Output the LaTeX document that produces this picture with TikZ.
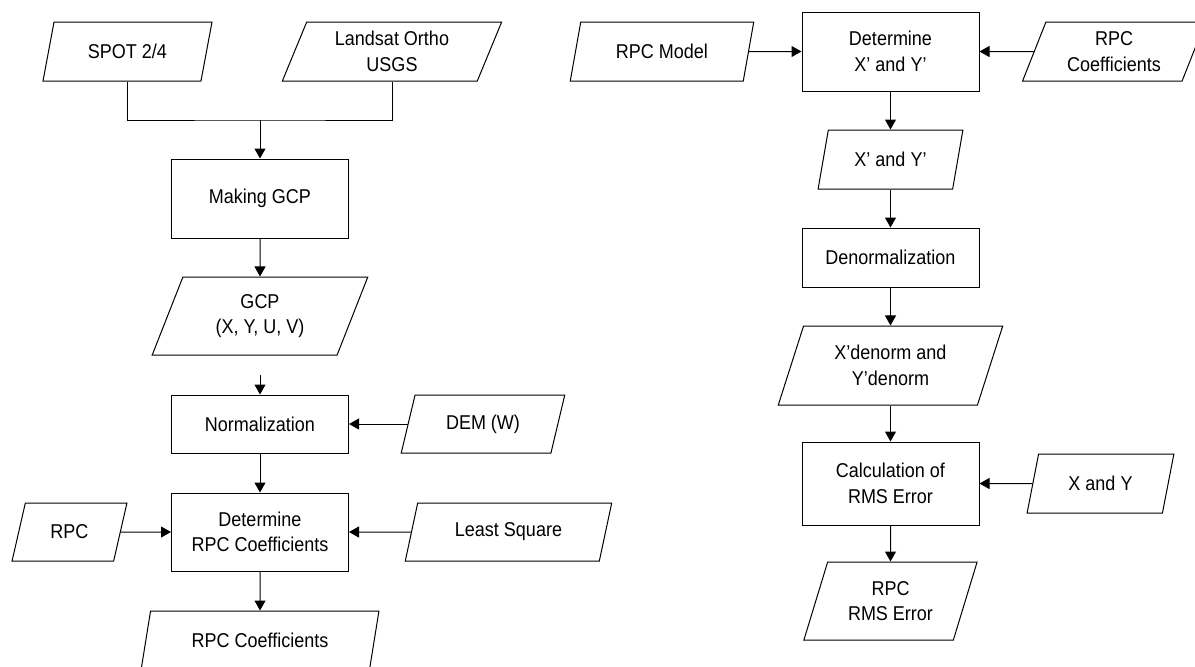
\documentclass[tikz,border=0pt]{standalone}
\usepackage{fontspec}
\setmainfont{Liberation Sans}[FakeStretch=0.9]
\usetikzlibrary{shapes.geometric, arrows.meta, positioning}

\begin{document}
\begin{tikzpicture}[x=0.5pt, y=-0.5pt,
    font=\fontsize{10}{12.8}\selectfont,
    every node/.style={align=center, inner sep=0pt, line width=0.5pt},
    procbox/.style={draw, rectangle, minimum width=88.5pt, minimum height=39.5pt},
    iobox/.style={draw, trapezium, trapezium left angle=68, trapezium right angle=112,
      trapezium stretches=true, minimum height=29.5pt},
    arr/.style={line width=0.5pt, -{Triangle[length=5pt, width=5.5pt]}}]
  \path[use as bounding box, fill=white] (0,0) rectangle (1195,666);

  \node[iobox, minimum width=84.5pt] (spot) at (127.5,51.5) {SPOT 2/4};
  \node[iobox, minimum width=110pt] (landsat) at (392,51.5) {Landsat Ortho\\USGS};
  \coordinate (merge) at (260,120);
  \node[procbox] (making) at (260,198.5) {Making GCP};
  \node[iobox, minimum width=108pt, minimum height=39pt] (gcp) at (260,316) {GCP\\(X, Y, U, V)};
  \coordinate (gap) at (260,375);
  \node[procbox, minimum height=29pt] (norm) at (260,424) {Normalization};
  \node[iobox, minimum width=82pt, minimum height=29pt] (dem) at (483,424) {DEM (W)};
  \node[procbox, minimum height=39pt] (detrpc) at (260,532) {Determine\\RPC Coefficients};
  \node[iobox, minimum width=57.5pt, minimum height=29pt] (rpc) at (69.5,532) {RPC};
  \node[iobox, minimum width=103.5pt, minimum height=29pt] (lsq) at (508.5,532) {Least Square};
  \node[iobox, minimum width=119.5pt] (rpccoef) at (260,640.5) {RPC Coefficients};

  \node[iobox, minimum width=92pt] (model) at (662,51.5) {RPC Model};
  \node[procbox] (detxy) at (890.5,51.5) {Determine\\X’ and Y’};
  \node[iobox, minimum width=92pt] (coefin) at (1114,51.5) {RPC\\Coefficients};
  \node[iobox, minimum width=72.5pt] (xy) at (890.5,159.5) {X’ and Y’};
  \node[procbox, minimum height=29.5pt] (denorm) at (890.5,257.5) {Denormalization};
  \node[iobox, minimum width=112.5pt, minimum height=39.5pt] (xyden) at (890.5,365.5) {X’denorm and\\Y’denorm};
  \node[procbox, minimum height=41.5pt] (rms) at (890.5,483.5) {Calculation of\\RMS Error};
  \node[iobox, minimum width=73.5pt] (xyref) at (1100.5,483.5) {X and Y};
  \node[iobox, minimum width=87pt, minimum height=39pt] (rpcrms) at (890.5,601) {RPC\\RMS Error};

  \draw[line width=0.5pt] (spot.south) |- (merge) -| (landsat.south);
  \draw[arr] (merge) -- (making);
  \draw[arr] (making) -- (gcp);
  \draw[arr] (gap) -- (norm);
  \draw[arr] (dem) -- (norm);
  \draw[arr] (norm) -- (detrpc);
  \draw[arr] (rpc) -- (detrpc);
  \draw[arr] (lsq) -- (detrpc);
  \draw[arr] (detrpc) -- (rpccoef);

  \draw[arr] (model) -- (detxy);
  \draw[arr] (coefin) -- (detxy);
  \draw[arr] (detxy) -- (xy);
  \draw[arr] (xy) -- (denorm);
  \draw[arr] (denorm) -- (xyden);
  \draw[arr] (xyden) -- (rms);
  \draw[arr] (xyref) -- (rms);
  \draw[arr] (rms) -- (rpcrms);
\end{tikzpicture}
\end{document}
